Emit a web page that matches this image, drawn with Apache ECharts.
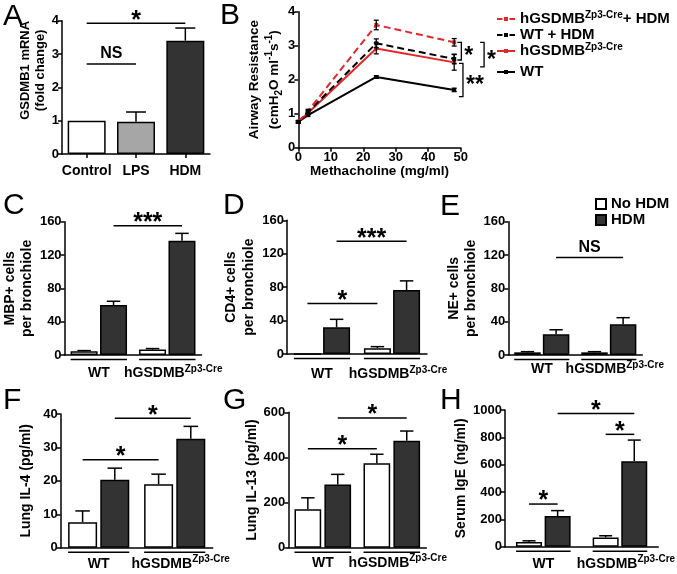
<!DOCTYPE html>
<html><head><meta charset="utf-8">
<script src="https://cdn.jsdelivr.net/npm/echarts@6/dist/echarts.min.js"></script>
<style>html,body{margin:0;padding:0;background:#fff}#c{width:677px;height:574px}</style>
</head><body><div id="c"></div>
<script>
// ---------------- DATA ----------------
const aCategories = ['Control', 'LPS', 'HDM'];
const aValues = [1.0, 0.97, 3.4];
const aErrors = [0, 0.29, 0.38];
const aSig = [[0, 0, 1, 0, 2.7], [0, 0, 2, 0, 3.92]];
const aSigLabels = ['NS', '*'];

const bDoses = [0, 3, 24, 48];
const bSeriesNames = ['hGSDMB-Zp3-Cre+ HDM', 'WT + HDM', 'hGSDMB-Zp3-Cre', 'WT'];
const bTgHdm = [0.76, 1.08, 3.61, 3.1];
const bTgHdmErr = [0.03, 0.05, 0.14, 0.11];
const bWtHdm = [0.76, 1.05, 3.07, 2.61];
const bWtHdmErr = [0.03, 0.05, 0.13, 0.14];
const bTg = [0.76, 1.02, 2.92, 2.51];
const bTgErr = [0.03, 0.05, 0.16, 0.23];
const bWt = [0.76, 0.96, 2.08, 1.7];
const bWtErr = [0.03, 0.04, 0.04, 0.05];
const bBrackets = [[50.2, 3.1, 2.58], [57.2, 3.1, 2.38], [50.7, 2.48, 1.5]];
const bBracketLabels = ['*', '*', '**'];

const groups = ['WT', 'hGSDMB'];
const cNoHdm = [4.5, 6.5], cNoHdmErr = [0.8, 1.2], cHdm = [60, 137], cHdmErr = [4.5, 9];
const cSig = [[0, 1, 1, 1, 155]], cSigLabels = ['***'];
const dNoHdm = [0, 7], dNoHdmErr = [0, 1.8], dHdm = [32, 76.5], dHdmErr = [9.5, 11];
const dSig = [[0, 0, 1, 0, 60.5], [0, 1, 1, 1, 135]], dSigLabels = ['*', '***'];
const eNoHdm = [3.2, 3.2], eNoHdmErr = [0.8, 0.8], eHdm = [24.8, 36.8], eHdmErr = [5.5, 8];
const eSig = [[0, 1, 1, 1, 117]], eSigLabels = ['NS'];
const fNoHdm = [7.6, 19], fNoHdmErr = [3.4, 3], fHdm = [20.3, 32.6], fHdmErr = [3.5, 3.7];
const fSig = [[0, 0, 1, 0, 26.3], [0, 1, 1, 1, 38.7]], fSigLabels = ['*', '*'];
const gNoHdm = [170, 374], gNoHdmErr = [51, 40], gHdm = [280, 474], gHdmErr = [45, 43];
const gSig = [[0, 0, 1, 0, 438], [0, 1, 1, 1, 575]], gSigLabels = ['*', '*'];
const hNoHdm = [35, 68], hNoHdmErr = [8, 12], hHdm = [224, 625], hHdmErr = [40, 155];
const hSig = [[0, 0, 0, 1, 312], [1, 0, 1, 1, 822], [0, 1, 1, 1, 975]], hSigLabels = ['*', '*', '*'];

// ---------------- STYLE / LAYOUT ----------------
const FONT = "'Liberation Sans', Arial, Helvetica, sans-serif";
const RED = '#e3262a', DARK = '#333333';
const aColors = ['#ffffff', '#a6a6a6', DARK];
const grids = [
  {left: 62, top: 20.7, width: 148, height: 133.3},
  {left: 298.3, top: 11.7, width: 162.4, height: 136},
  {left: 60.5, top: 221.7, width: 141, height: 133.3},
  {left: 287, top: 220.3, width: 140, height: 133.7},
  {left: 508.3, top: 221.7, width: 134, height: 133.3},
  {left: 60.7, top: 414, width: 152, height: 133.7},
  {left: 288.3, top: 412.3, width: 138, height: 135.4},
  {left: 505, top: 410, width: 158, height: 136.7}
];
const supStyle = {fontFamily: FONT, fontWeight: 'bold', fontSize: 10, lineHeight: 10, verticalAlign: 'top', color: '#000'};
const subStyle = {fontFamily: FONT, fontWeight: 'bold', fontSize: 10, lineHeight: 10, verticalAlign: 'bottom', color: '#000'};
const lineW = 1.5;
const DOTS = 'M0,0h0.01v0.01h-0.01z M0,10h0.01v0.01h-0.01z ';
const iconSolid = 'path://' + DOTS + 'M0,4.1H18V5.9H0z M7,3H11V7H7z';
const iconDashed = 'path://' + DOTS + 'M0,4.1H5.5V5.9H0z M7,3H11V7H7z M12.5,4.1H18V5.9H12.5z';

function yAxis(gi, min, max, interval, name, gap, fs, lh, extra) {
  return {
    type: 'value', gridIndex: gi, min, max, interval, name, nameLocation: 'middle', nameGap: gap,
    nameTextStyle: Object.assign({fontFamily: FONT, fontWeight: 'bold', fontSize: fs, color: '#000', lineHeight: lh}, extra || {}),
    axisLine: {show: true, lineStyle: {color: '#000', width: lineW}},
    axisTick: {show: true, length: 4, lineStyle: {color: '#000', width: lineW}},
    axisLabel: {fontFamily: FONT, fontWeight: 'bold', fontSize: 13, color: '#000', margin: 3, formatter: v => String(v)},
    splitLine: {show: false}
  };
}
function groupXAxis(gi, margin) {
  return {
    type: 'category', gridIndex: gi, data: groups,
    axisLine: {lineStyle: {color: '#000', width: lineW}}, axisTick: {show: false},
    axisLabel: {
      margin, interval: 0,
      formatter: v => v === 'WT' ? '{wt|WT}' : '{h|' + v + '}{sup|Zp3-Cre}',
      rich: {
        wt: {fontFamily: FONT, fontWeight: 'bold', fontSize: 14, lineHeight: 18, color: '#000'},
        h: {fontFamily: FONT, fontWeight: 'bold', fontSize: 14, lineHeight: 18, color: '#000', padding: [0, 0, 0, 12]},
        sup: supStyle
      }
    }
  };
}
function sigText(lab, x, y) {
  const star = lab.indexOf('*') >= 0;
  return {type: 'text', x, y: star ? y - 2.5 : y - 2,
    style: {text: lab, font: 'bold ' + (star ? 25 : 16) + 'px ' + FONT, fill: '#000', align: 'center', verticalAlign: star ? 'middle' : 'bottom'}};
}
function errSeries(gi, values, errs, offset, cap) {
  return {
    type: 'custom', xAxisIndex: gi, yAxisIndex: gi, silent: true, z: 4,
    data: values.map((v, i) => [i, v, errs[i]]),
    renderItem(params, api) {
      const c = api.value(0), v = api.value(1), e = api.value(2);
      if (!e) return null;
      const p0 = api.coord([c, v]), p1 = api.coord([c, v + e]);
      const x = p0[0] + offset;
      return {type: 'group', children: [
        {type: 'line', shape: {x1: x, y1: p0[1], x2: x, y2: p1[1]}, style: {stroke: '#000', lineWidth: lineW}},
        {type: 'line', shape: {x1: x - cap, y1: p1[1], x2: x + cap, y2: p1[1]}, style: {stroke: '#000', lineWidth: lineW}}
      ]};
    }
  };
}
function sigSeries(gi, sig, labels, offset) {
  return {
    type: 'custom', xAxisIndex: gi, yAxisIndex: gi, silent: true, z: 5, data: sig,
    renderItem(params, api) {
      const y = api.value(4);
      const a = api.coord([api.value(0), y]), b = api.coord([api.value(2), y]);
      const x1 = a[0] + (api.value(1) ? offset : -offset);
      const x2 = b[0] + (api.value(3) ? offset : -offset);
      return {type: 'group', children: [
        {type: 'line', shape: {x1, y1: a[1], x2, y2: a[1]}, style: {stroke: '#000', lineWidth: lineW}},
        sigText(labels[params.dataIndex], (x1 + x2) / 2, a[1])
      ]};
    }
  };
}
function underlineSeries(gi, half) {
  return {
    type: 'custom', xAxisIndex: gi, yAxisIndex: gi, silent: true, z: 5,
    data: groups.map((g, i) => [i, 0]),
    renderItem(params, api) {
      const p = api.coord([api.value(0), 0]);
      const y = p[1] + 4.5;
      return {type: 'line', shape: {x1: p[0] - half, y1: y, x2: p[0] + half, y2: y}, style: {stroke: '#000', lineWidth: lineW}};
    }
  };
}
function barPanel(gi, bw, gap, noHdm, noHdmErr, hdm, hdmErr, sig, sigLabels) {
  const off = bw * (1 + gap) / 2;
  const base = {type: 'bar', xAxisIndex: gi, yAxisIndex: gi, barWidth: bw, barGap: (gap * 100) + '%', silent: true};
  return [
    Object.assign({}, base, {name: 'No HDM', data: noHdm, itemStyle: {color: '#fff', borderColor: '#000', borderWidth: lineW}}),
    Object.assign({}, base, {name: 'HDM', data: hdm, itemStyle: {color: DARK, borderColor: '#000', borderWidth: lineW}}),
    errSeries(gi, noHdm, noHdmErr, -off, bw / 4),
    errSeries(gi, hdm, hdmErr, off, bw / 4),
    underlineSeries(gi, off + bw / 2),
    sigSeries(gi, sig, sigLabels, off)
  ];
}

// ---------------- AXES ----------------
const xAxes = [
  {type: 'category', gridIndex: 0, data: aCategories,
    axisLine: {lineStyle: {color: '#000', width: lineW}},
    axisTick: {show: true, alignWithLabel: true, length: 4, lineStyle: {color: '#000', width: lineW}},
    axisLabel: {fontFamily: FONT, fontWeight: 'bold', fontSize: 14, color: '#000', margin: 10, interval: 0}},
  {type: 'value', gridIndex: 1, min: 0, max: 50, interval: 10, name: 'Methacholine (mg/ml)', nameLocation: 'middle', nameGap: 17,
    nameTextStyle: {fontFamily: FONT, fontWeight: 'bold', fontSize: 13.5, color: '#000'},
    axisLine: {show: true, lineStyle: {color: '#000', width: lineW}},
    axisTick: {show: true, length: 4, lineStyle: {color: '#000', width: lineW}},
    axisLabel: {fontFamily: FONT, fontWeight: 'bold', fontSize: 13, color: '#000', margin: 3},
    splitLine: {show: false}},
  groupXAxis(2, 9), groupXAxis(3, 11), groupXAxis(4, 5),
  groupXAxis(5, 7), groupXAxis(6, 6), groupXAxis(7, 8)
];
const yAxes = [
  yAxis(0, 0, 4, 1, 'GSDMB1 mRNA\n(fold change)', 11.5, 13, 15, {padding: [0, 0, 0, 34]}),
  yAxis(1, 0, 4, 1, 'Airway Resistance\n(cmH{sub|2}O ml{sup|-1}s{sup|-1})', 14, 13.5, 20, {rich: {sup: supStyle, sub: subStyle}}),
  yAxis(2, 0, 160, 40, 'MBP+ cells\nper bronchiole', 20, 14, 17.5),
  yAxis(3, 0, 160, 40, 'CD4+ cells\nper bronchiole', 23, 14, 18),
  yAxis(4, 0, 160, 40, 'NE+ cells\nper bronchiole', 23.5, 14, 17),
  yAxis(5, 0, 40, 10, 'Lung IL-4 (pg/ml)', 27, 14, 16),
  yAxis(6, 0, 600, 200, 'Lung IL-13 (pg/ml)', 28.5, 14, 16),
  yAxis(7, 0, 1000, 200, 'Serum IgE (ng/ml)', 27.5, 14, 16)
];

// ---------------- SERIES ----------------
const series = [];
series.push({type: 'bar', xAxisIndex: 0, yAxisIndex: 0, barWidth: 38, silent: true,
  data: aValues.map((v, i) => ({value: v, itemStyle: {color: aColors[i], borderColor: '#000', borderWidth: lineW}}))});
series.push(errSeries(0, aValues, aErrors, 0, 10));
series.push(sigSeries(0, aSig, aSigLabels, 0));

const bData = [[bTgHdm, bTgHdmErr, RED, 'dashed'], [bWtHdm, bWtHdmErr, '#000', 'dashed'], [bTg, bTgErr, RED, 'solid'], [bWt, bWtErr, '#000', 'solid']];
bData.forEach((d, k) => {
  series.push({type: 'line', name: bSeriesNames[k], xAxisIndex: 1, yAxisIndex: 1, silent: true, z: 3 + (3 - k) * 0.1,
    data: bDoses.map((x, i) => [x, d[0][i]]), symbol: 'rect', symbolSize: 4,
    itemStyle: {color: d[2]}, lineStyle: {color: d[2], width: 2, type: d[3] === 'dashed' ? [7, 4] : 'solid'}});
  series.push({type: 'custom', xAxisIndex: 1, yAxisIndex: 1, silent: true, z: 4,
    data: bDoses.map((x, i) => [x, d[0][i], d[1][i]]),
    renderItem(params, api) {
      const x = api.value(0), v = api.value(1), e = api.value(2);
      const lo = api.coord([x, v - e]), hi = api.coord([x, v + e]);
      const st = {stroke: '#000', lineWidth: 1.3};
      return {type: 'group', children: [
        {type: 'line', shape: {x1: lo[0], y1: lo[1], x2: hi[0], y2: hi[1]}, style: st},
        {type: 'line', shape: {x1: lo[0] - 2.5, y1: lo[1], x2: lo[0] + 2.5, y2: lo[1]}, style: st},
        {type: 'line', shape: {x1: hi[0] - 2.5, y1: hi[1], x2: hi[0] + 2.5, y2: hi[1]}, style: st}
      ]};
    }});
});
series.push({type: 'custom', xAxisIndex: 1, yAxisIndex: 1, silent: true, z: 5, data: bBrackets,
  renderItem(params, api) {
    const t = api.coord([api.value(0), api.value(1)]), b = api.coord([api.value(0), api.value(2)]);
    const x = t[0];
    return {type: 'group', children: [
      {type: 'polyline', shape: {points: [[x - 4, t[1]], [x, t[1]], [x, b[1]], [x - 4, b[1]]]}, style: {stroke: '#000', lineWidth: 1.3, fill: null}},
      {type: 'text', x: x + 3, y: (t[1] + b[1]) / 2 + 6,
        style: {text: bBracketLabels[params.dataIndex], font: 'bold 23px ' + FONT, fill: '#000', align: 'left', verticalAlign: 'middle'}}
    ]};
  }});

series.push(...barPanel(2, 27, 0.09, cNoHdm, cNoHdmErr, cHdm, cHdmErr, cSig, cSigLabels));
series.push(...barPanel(3, 27, 0.08, dNoHdm, dNoHdmErr, dHdm, dHdmErr, dSig, dSigLabels));
series.push(...barPanel(4, 26.5, 0.08, eNoHdm, eNoHdmErr, eHdm, eHdmErr, eSig, eSigLabels));
series.push(...barPanel(5, 29, 0.11, fNoHdm, fNoHdmErr, fHdm, fHdmErr, fSig, fSigLabels));
series.push(...barPanel(6, 26.7, 0.12, gNoHdm, gNoHdmErr, gHdm, gHdmErr, gSig, gSigLabels));
series.push(...barPanel(7, 26, 0.1, hNoHdm, hNoHdmErr, hHdm, hHdmErr, hSig, hSigLabels));

// ---------------- LEGENDS ----------------
const bLegendTops = [10, 26, 42, 63];
const bIcons = [iconDashed, iconDashed, iconSolid, iconSolid];
const legends = bSeriesNames.map((n, i) => ({
  data: [{name: n, icon: bIcons[i]}], left: 497, top: bLegendTops[i], orient: 'vertical', selectedMode: false,
  itemWidth: 18, itemHeight: 10, padding: 0,
  itemStyle: {borderWidth: 0},
  formatter: name => name.replace('-Zp3-Cre', '{sup|Zp3-Cre}'),
  textStyle: {fontFamily: FONT, fontWeight: 'bold', fontSize: 15, lineHeight: 18, color: '#000', rich: {sup: supStyle}}
}));
legends.push({data: ['No HDM', 'HDM'], left: 595, top: 196, orient: 'vertical', selectedMode: false,
  icon: 'rect', itemWidth: 10, itemHeight: 10, itemGap: 0, padding: 0,
  textStyle: {fontFamily: FONT, fontWeight: 'bold', fontSize: 15, lineHeight: 16, color: '#000'}});

// ---------------- PANEL LETTERS ----------------
const letters = ['A', 'B', 'C', 'D', 'E', 'F', 'G', 'H'];
const letterPos = [[3, 15], [220, 13.5], [3, 204], [223, 204], [440, 205], [3, 399], [223, 398.5], [440, 398.5]];
const graphic = letters.map((t, i) => ({type: 'text', x: letterPos[i][0], y: letterPos[i][1] + 2, silent: true,
  style: {text: t, font: '30px ' + FONT, fill: '#000', align: 'left', verticalAlign: 'middle'}}));

const chart = echarts.init(document.getElementById('c'), null, {renderer: 'canvas'});
chart.setOption({
  animation: false, backgroundColor: '#fff',
  grid: grids.map(g => Object.assign({containLabel: false}, g)),
  xAxis: xAxes, yAxis: yAxes, legend: legends, series, graphic
});
</script></body></html>
